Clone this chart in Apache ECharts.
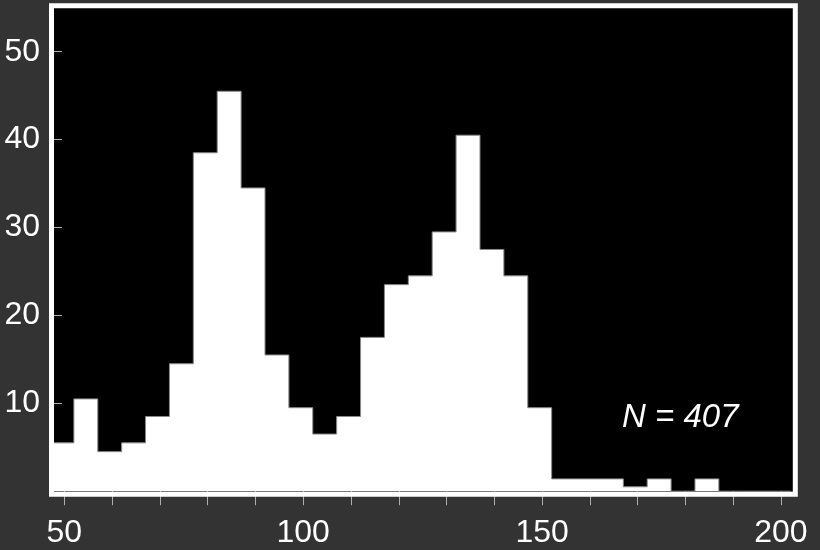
<!DOCTYPE html>
<html>
<head>
<meta charset="utf-8">
<script src="https://cdn.jsdelivr.net/npm/echarts@6/dist/echarts.min.js"></script>
<style>html,body{margin:0;padding:0;background:#333333;}#chart{width:820px;height:550px;}</style>
</head>
<body>
<div id="chart"></div>
<script>
// Histogram bin edges (left edges, last value closes the final bin)
const binEdges = [47, 52, 57, 62, 67, 72, 77, 82, 87, 92, 97, 102, 107, 112, 117, 122, 127, 132, 137, 142, 147, 152, 157, 162, 167, 172, 177, 182, 187, 192, 197, 202];
// Counts per bin
const counts = [5.5, 10.5, 4.5, 5.5, 8.5, 14.5, 38.5, 45.5, 34.5, 15.5, 9.5, 6.5, 8.5, 17.5, 23.5, 24.5, 29.5, 40.5, 27.5, 24.5, 9.5, 1.4, 1.4, 1.4, 0.5, 1.4, 0, 1.4, 0, 0, 0];
// Axis ticks and labels
const xTickValues = [50, 60, 70, 80, 90, 100, 110, 120, 130, 140, 150, 160, 170, 180, 190, 200];
const xLabelValues = [50, 100, 150, 200];
const yTickValues = [10, 20, 30, 40, 50];
const annotation = 'N = 407';

const FONT = '"Liberation Sans", Arial, Helvetica, sans-serif';
const histData = binEdges.map((e, i) => [e, i < counts.length ? counts[i] : 0]);

const chart = echarts.init(document.getElementById('chart'), null, {renderer: 'canvas'});
chart.setOption({
  animation: false,
  backgroundColor: '#333333',
  grid: [
    {left: 50, right: 24.7, top: 7.75, bottom: 58.8, show: true, backgroundColor: '#000000', borderWidth: 0, containLabel: false, outerBoundsMode: 'none'},
    {left: 51.5, right: 24.7, top: 5.75, bottom: 55.8, show: true, backgroundColor: 'transparent', borderColor: '#ffffff', borderWidth: 5, z: 10, containLabel: false, outerBoundsMode: 'none'}
  ],
  xAxis: [
    {
      gridIndex: 0, type: 'value', min: 47, max: 203,
      axisLine: {show: false, onZero: false},
      splitLine: {show: false},
      axisTick: {show: true, customValues: xTickValues, length: 14, lineStyle: {color: '#b0b0b0', width: 1}},
      axisLabel: {show: true, customValues: xLabelValues, margin: 26, color: '#ffffff', fontSize: 32, fontFamily: FONT}
    },
    {gridIndex: 1, type: 'value', min: 0, max: 1, show: false}
  ],
  yAxis: [
    {
      gridIndex: 0, type: 'value', min: 0, max: 55,
      axisLine: {show: false, onZero: false},
      splitLine: {show: false},
      axisTick: {show: true, inside: true, customValues: yTickValues, length: 12, lineStyle: {color: '#b0b0b0', width: 1}},
      axisLabel: {show: true, customValues: yTickValues, margin: 10, color: '#ffffff', fontSize: 32, fontFamily: FONT}
    },
    {gridIndex: 1, type: 'value', min: 0, max: 1, show: false}
  ],
  series: [
    {
      type: 'line',
      xAxisIndex: 0, yAxisIndex: 0,
      data: histData,
      step: 'end',
      symbol: 'none',
      lineStyle: {color: '#8a8a8a', width: 1},
      areaStyle: {color: '#ffffff', opacity: 1},
      z: 3
    }
  ],
  graphic: [
    {
      type: 'text', x: 622, y: 418, z: 20,
      style: {text: annotation, fill: '#ffffff', font: 'italic 33px ' + FONT, align: 'left', verticalAlign: 'middle'}
    }
  ]
});
</script>
</body>
</html>
